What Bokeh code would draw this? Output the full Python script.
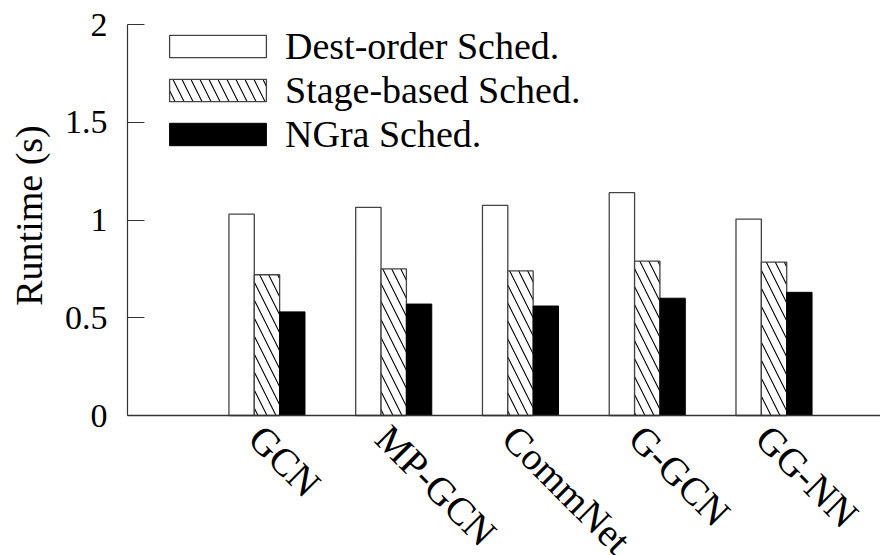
import math
import numpy as np
from bokeh.plotting import figure
from bokeh.models import (Range1d, FixedTicker, NumeralTickFormatter, Legend, LegendItem,
                          ColumnDataSource, LabelSet, Label)
from bokeh.transform import dodge
from bokeh.embed import file_html
from bokeh.resources import INLINE

models = ["GCN", "MP-GCN", "CommNet", "G-GCN", "GG-NN"]
dest_order = [1.03, 1.065, 1.075, 1.14, 1.005]
stage_based = [0.72, 0.75, 0.74, 0.79, 0.785]
ngra = [0.53, 0.57, 0.56, 0.60, 0.63]
y_ticks = [0, 0.5, 1, 1.5, 2]
y_label = "Runtime (s)"

FONT = "Liberation Serif"
idx = np.arange(len(models))
bw = 0.2
X0, X1 = -1.1, 4.84   # extent of the drawn x axis
Y0, Y1 = 0, 2         # extent of the drawn y axis

# the frame covers the whole canvas so that labels outside the axes are not clipped
p = figure(width=880, height=555, output_backend="svg", toolbar_location=None,
           x_range=Range1d(-2.102, X1), y_range=Range1d(-0.7161, 2.1228),
           min_border_left=0, min_border_right=0, min_border_top=0, min_border_bottom=0)
p.outline_line_color = None
p.grid.visible = False
p.background_fill_color = "white"

src = ColumnDataSource(dict(x=idx, d=dest_order, s=stage_based, n=ngra,
                            label=models, zero=[0] * len(models)))
r1 = p.vbar(x=dodge("x", -bw, range=p.x_range), top="d", width=bw, source=src,
            fill_color="white", line_color="#444444", line_width=1.3)
r2 = p.vbar(x=dodge("x", 0, range=p.x_range), top="s", width=bw, source=src,
            fill_color="white", line_color="#444444", line_width=1.3,
            hatch_pattern="\\", hatch_color="black", hatch_weight=1.1, hatch_scale=18)
r3 = p.vbar(x=dodge("x", bw, range=p.x_range), top="n", width=bw, source=src,
            fill_color="black", line_color="black", line_width=1)

legend = Legend(items=[LegendItem(label="Dest-order Sched.", renderers=[r1]),
                       LegendItem(label="Stage-based Sched.", renderers=[r2]),
                       LegendItem(label="NGra Sched.", renderers=[r3])],
                location=(157, 399), orientation="vertical")
legend.border_line_color = None
legend.background_fill_alpha = 0
legend.padding = 0
legend.margin = 0
legend.spacing = 0
legend.glyph_width = 121
legend.glyph_height = 28
legend.label_standoff = 7
legend.label_text_font = FONT
legend.label_text_font_size = "38px"
legend.label_text_color = "black"
p.add_layout(legend)

# x axis: line only, at y=0
xa = p.xaxis[0]
xa.fixed_location = 0
xa.bounds = (X0, X1)
xa.ticker = FixedTicker(ticks=[])
xa.major_tick_in = 0
xa.major_tick_out = 0
xa.minor_tick_line_color = None
xa.major_label_text_color = None
xa.axis_line_color = "#333333"
xa.axis_line_width = 1.5

labels = LabelSet(x="x", y="zero", text="label", source=src, angle=-math.pi / 4,
                  text_align="left", text_baseline="top", x_offset=4, y_offset=-1,
                  text_font=FONT, text_font_size="39px", text_color="black")
p.add_layout(labels)

# y axis at the left end of the x axis
ya = p.yaxis[0]
ya.fixed_location = X0
ya.bounds = (Y0, Y1)
ya.ticker = FixedTicker(ticks=y_ticks)
ya.formatter = NumeralTickFormatter(format="0.[0]")
ya.major_tick_in = 17
ya.major_tick_out = 0
ya.minor_tick_line_color = None
ya.axis_line_color = "#333333"
ya.axis_line_width = 1.2
ya.major_tick_line_color = "#333333"
ya.major_label_text_font = FONT
ya.major_label_text_font_size = "34px"
ya.major_label_text_color = "black"
ya.major_label_standoff = 20

p.add_layout(Label(x=-1.881, y=1.023, text=y_label, angle=math.pi / 2,
                   text_align="center", text_baseline="middle",
                   text_font=FONT, text_font_size="38px", text_color="black"))

open("out.html", "w").write(file_html(p, INLINE))
